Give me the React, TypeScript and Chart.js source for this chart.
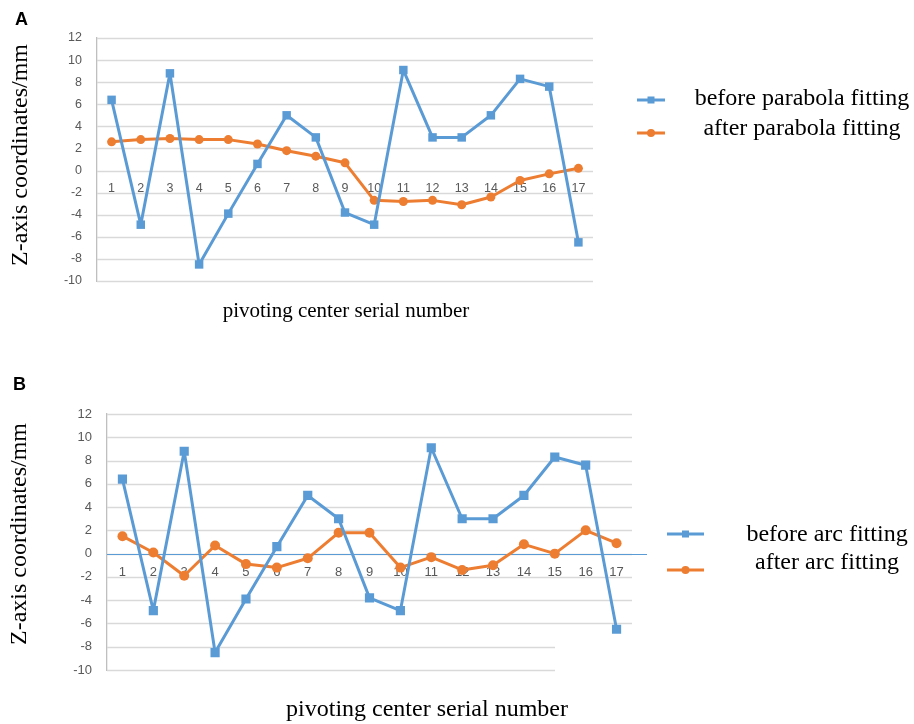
import React, { useEffect, useRef } from "react";
import { Chart, registerables } from "chart.js";

Chart.register(...registerables);

// Pivoting center serial numbers on the category axis
const serialNumbers = ["1", "2", "3", "4", "5", "6", "7", "8", "9", "10", "11", "12", "13", "14", "15", "16", "17"];

// Z-axis scale range and step (mm)
const yMin = -10;
const yMax = 12;
const yStep = 2;

// Z-axis coordinates of the pivoting centers before any fitting (mm)
const beforeFitting = [6.4, -4.9, 8.8, -8.5, -3.9, 0.6, 5.0, 3.0, -3.8, -4.9, 9.1, 3.0, 3.0, 5.0, 8.3, 7.6, -6.5];

// Z-axis coordinates after parabola fitting (mm)
const afterParabolaFitting = [2.6, 2.8, 2.9, 2.8, 2.8, 2.4, 1.8, 1.3, 0.7, -2.7, -2.8, -2.7, -3.1, -2.4, -0.9, -0.3, 0.2];

// Z-axis coordinates after arc fitting (mm)
const afterArcFitting = [1.5, 0.1, -1.9, 0.7, -0.9, -1.2, -0.4, 1.8, 1.8, -1.2, -0.3, -1.4, -1.0, 0.8, 0.0, 2.0, 0.9];

const BLUE = "#5B9BD5";
const ORANGE = "#ED7D31";
const GRID = "#d9d9d9";
const TICK = "#595959";
const SERIF = "'Liberation Serif', 'Times New Roman', serif";
const SANS = "'Liberation Sans', Arial, sans-serif";
const PAGE_W = 914;

type PanelSpec = {
  letter: string;
  top: number;
  height: number;
  area: { left: number; right: number; top: number; bottom: number };
  afterValues: number[];
  beforeLabel: string;
  afterLabel: string;
  tickSize: number;
  rectRadius: number;
  dotRadius: number;
  letterPos: { x: number; y: number };
  yTitle: { x: number; y: number; size: number };
  xTitle: { x: number; y: number; size: number };
  legend: {
    lineX0: number;
    lineX1: number;
    blueY: number;
    orangeY: number;
    textX: number;
    text1Y: number;
    text2Y: number;
    size: number;
  };
  zeroLineEnd?: number;
  shortGrid?: { atOrBelow: number; endX: number };
};

const panels: PanelSpec[] = [
  {
    letter: "A",
    top: 0,
    height: 350,
    area: { left: 97, right: 593, top: 38, bottom: 281 },
    afterValues: afterParabolaFitting,
    beforeLabel: "before parabola fitting",
    afterLabel: "after parabola fitting",
    tickSize: 12.5,
    rectRadius: 6,
    dotRadius: 4.5,
    letterPos: { x: 15, y: 25 },
    yTitle: { x: 21, y: 155, size: 24 },
    xTitle: { x: 346, y: 311, size: 21 },
    legend: {
      lineX0: 637,
      lineX1: 665,
      blueY: 100,
      orangeY: 133,
      textX: 802,
      text1Y: 98.5,
      text2Y: 128.5,
      size: 24,
    },
  },
  {
    letter: "B",
    top: 350,
    height: 374,
    area: { left: 107, right: 632, top: 64, bottom: 320 },
    afterValues: afterArcFitting,
    beforeLabel: "before arc fitting",
    afterLabel: "after arc fitting",
    tickSize: 13,
    rectRadius: 6.5,
    dotRadius: 5,
    letterPos: { x: 13, y: 40 },
    yTitle: { x: 20, y: 184, size: 24 },
    xTitle: { x: 427, y: 359.5, size: 24 },
    legend: {
      lineX0: 667,
      lineX1: 704,
      blueY: 184,
      orangeY: 220,
      textX: 827,
      text1Y: 184.3,
      text2Y: 213,
      size: 24,
    },
    zeroLineEnd: 647,
    shortGrid: { atOrBelow: -8, endX: 555 },
  },
];

function makeDecorPlugin(spec: PanelSpec) {
  return {
    id: "panelDecor",
    beforeDatasetsDraw(chart: any) {
      const { ctx, chartArea, scales } = chart;
      const y = scales.y;
      ctx.save();
      // horizontal gridlines at every y tick
      ctx.strokeStyle = GRID;
      ctx.lineWidth = 1.3;
      for (const t of y.ticks) {
        const py = Math.round(y.getPixelForValue(t.value)) + 0.5;
        const end =
          spec.shortGrid && t.value <= spec.shortGrid.atOrBelow ? spec.shortGrid.endX : chartArea.right;
        ctx.beginPath();
        ctx.moveTo(chartArea.left, py);
        ctx.lineTo(end, py);
        ctx.stroke();
      }
      // horizontal axis line through zero
      if (spec.zeroLineEnd) {
        const pz = Math.round(y.getPixelForValue(0)) + 0.5;
        ctx.strokeStyle = BLUE;
        ctx.lineWidth = 1;
        ctx.beginPath();
        ctx.moveTo(chartArea.left, pz);
        ctx.lineTo(spec.zeroLineEnd, pz);
        ctx.stroke();
      }
      ctx.restore();
    },
    afterDraw(chart: any) {
      const { ctx } = chart;
      const lg = spec.legend;
      ctx.save();

      // panel letter
      ctx.fillStyle = "#000";
      ctx.font = `bold 18px ${SANS}`;
      ctx.textAlign = "left";
      ctx.textBaseline = "alphabetic";
      ctx.fillText(spec.letter, spec.letterPos.x, spec.letterPos.y);

      // axis titles
      ctx.textAlign = "center";
      ctx.textBaseline = "middle";
      ctx.font = `${spec.xTitle.size}px ${SERIF}`;
      ctx.fillText("pivoting center serial number", spec.xTitle.x, spec.xTitle.y);

      ctx.save();
      ctx.translate(spec.yTitle.x, spec.yTitle.y);
      ctx.rotate(-Math.PI / 2);
      ctx.font = `${spec.yTitle.size}px ${SERIF}`;
      ctx.fillText("Z-axis coordinates/mm", 0, 0);
      ctx.restore();

      // legend symbols: line with the series marker in the middle
      const mid = (lg.lineX0 + lg.lineX1) / 2;
      ctx.lineWidth = 3;
      ctx.strokeStyle = BLUE;
      ctx.beginPath();
      ctx.moveTo(lg.lineX0, lg.blueY);
      ctx.lineTo(lg.lineX1, lg.blueY);
      ctx.stroke();
      ctx.fillStyle = BLUE;
      ctx.fillRect(mid - 3.5, lg.blueY - 3.5, 7, 7);

      ctx.strokeStyle = ORANGE;
      ctx.beginPath();
      ctx.moveTo(lg.lineX0, lg.orangeY);
      ctx.lineTo(lg.lineX1, lg.orangeY);
      ctx.stroke();
      ctx.fillStyle = ORANGE;
      ctx.beginPath();
      ctx.arc(mid, lg.orangeY, 4, 0, Math.PI * 2);
      ctx.fill();

      // legend texts
      ctx.fillStyle = "#000";
      ctx.font = `${lg.size}px ${SERIF}`;
      ctx.textAlign = "center";
      ctx.textBaseline = "middle";
      ctx.fillText(spec.beforeLabel, lg.textX, lg.text1Y);
      ctx.fillText(spec.afterLabel, lg.textX, lg.text2Y);

      ctx.restore();
    },
  };
}

function Panel({ spec }: { spec: PanelSpec }) {
  const ref = useRef<HTMLCanvasElement | null>(null);

  useEffect(() => {
    const canvas = ref.current;
    if (!canvas) return;
    const { area } = spec;
    const chart = new Chart(canvas, {
      type: "line",
      data: {
        labels: serialNumbers,
        datasets: [
          {
            label: spec.beforeLabel,
            data: beforeFitting,
            borderColor: BLUE,
            backgroundColor: BLUE,
            borderWidth: 3,
            borderJoinStyle: "round",
            tension: 0,
            pointStyle: "rect",
            pointRadius: spec.rectRadius,
            pointBorderWidth: 0,
            pointBackgroundColor: BLUE,
          },
          {
            label: spec.afterLabel,
            data: spec.afterValues,
            borderColor: ORANGE,
            backgroundColor: ORANGE,
            borderWidth: 3,
            borderJoinStyle: "round",
            tension: 0,
            pointStyle: "circle",
            pointRadius: spec.dotRadius,
            pointBorderWidth: 0,
            pointBackgroundColor: ORANGE,
          },
        ],
      },
      options: {
        responsive: false,
        animation: false,
        devicePixelRatio: 1,
        layout: {
          padding: {
            left: 0,
            right: PAGE_W - area.right,
            top: area.top,
            bottom: spec.height - area.bottom,
          },
        },
        plugins: {
          legend: { display: false },
          tooltip: { enabled: false },
        },
        scales: {
          x: {
            type: "category",
            position: { y: 0 },
            offset: true,
            grid: { display: false, drawTicks: false },
            border: { display: false },
            ticks: {
              autoSkip: false,
              maxRotation: 0,
              padding: 11,
              color: TICK,
              font: { family: SANS, size: spec.tickSize },
            },
          },
          y: {
            min: yMin,
            max: yMax,
            grid: { display: false, drawTicks: false },
            border: { display: true, color: "#bfbfbf", width: 1.3 },
            ticks: {
              stepSize: yStep,
              padding: 15,
              color: TICK,
              font: { family: SANS, size: spec.tickSize },
            },
            afterFit: (scale: any) => {
              scale.width = area.left;
            },
          },
        },
      } as any,
      plugins: [makeDecorPlugin(spec)],
    });
    return () => chart.destroy();
  }, [spec]);

  return (
    <canvas
      ref={ref}
      width={PAGE_W}
      height={spec.height}
      style={{ position: "absolute", left: 0, top: spec.top, width: PAGE_W, height: spec.height }}
    />
  );
}

export default function App() {
  return (
    <div style={{ position: "absolute", left: 0, top: 0, width: PAGE_W, height: 724, background: "#fff" }}>
      {panels.map((p) => (
        <Panel key={p.letter} spec={p} />
      ))}
    </div>
  );
}
